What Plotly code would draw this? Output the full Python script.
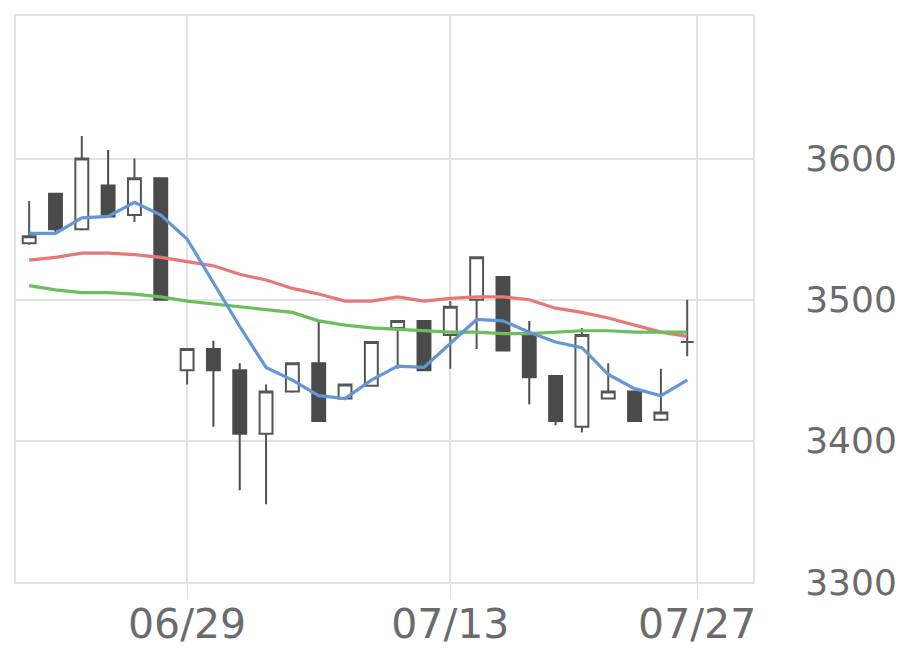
import plotly.graph_objects as go

# Trading days (categories)
dates = ["06/19", "06/22", "06/23", "06/24", "06/25", "06/26", "06/29", "06/30",
         "07/01", "07/02", "07/03", "07/06", "07/07", "07/08", "07/09", "07/10",
         "07/13", "07/14", "07/15", "07/16", "07/17", "07/21", "07/22", "07/23",
         "07/24", "07/27"]

open_ = [3540, 3575, 3550, 3581, 3560, 3586, 3450, 3465, 3450, 3405, 3435, 3455, 3430,
         3439, 3480, 3485, 3475, 3500, 3516, 3476, 3446, 3410, 3430, 3435, 3415, 3470]
high = [3570, 3575, 3616, 3606, 3600, 3586, 3465, 3471, 3455, 3440, 3455, 3485, 3440,
        3470, 3485, 3485, 3499, 3530, 3516, 3485, 3446, 3480, 3455, 3435, 3451, 3500]
low = [3539, 3548, 3549, 3558, 3555, 3500, 3440, 3410, 3365, 3355, 3434, 3414, 3429,
       3439, 3451, 3450, 3451, 3465, 3464, 3426, 3411, 3406, 3430, 3414, 3414, 3460]
close = [3545, 3550, 3600, 3559, 3586, 3500, 3465, 3450, 3405, 3435, 3455, 3414, 3440,
         3470, 3485, 3450, 3495, 3530, 3464, 3445, 3414, 3475, 3435, 3414, 3420, 3470]

ma_short = [3547, 3547, 3558, 3559, 3569, 3560, 3543, 3512, 3481, 3452, 3443, 3432, 3430,
            3443, 3453, 3452, 3469, 3486, 3485, 3477, 3470, 3466, 3447, 3437, 3432, 3443]
ma_mid = [3528, 3530, 3533, 3533, 3532, 3530, 3527, 3524, 3518, 3514, 3508, 3504, 3499,
          3499, 3502, 3499, 3501, 3502, 3502, 3500, 3494, 3491, 3487, 3482, 3477, 3474]
ma_long = [3510, 3507, 3505, 3505, 3504, 3502, 3499, 3497, 3495, 3493, 3491, 3485, 3482,
           3480, 3479, 3478, 3477, 3477, 3476, 3476, 3477, 3478, 3478, 3477, 3477, 3477]

x_tick_labels = ["06/29", "07/13", "07/27"]
y_ticks = [3300, 3400, 3500, 3600]

x = list(range(len(dates)))
x_tick_pos = [dates.index("06/29"), dates.index("07/13"), len(dates) - 1 + 0.38]

fig = go.Figure()
fig.add_trace(go.Scatter(x=x, y=ma_mid, mode="lines",
                         line=dict(color="#e87878", width=3.2), hoverinfo="skip"))
fig.add_trace(go.Scatter(x=x, y=ma_long, mode="lines",
                         line=dict(color="#6abe5c", width=3.2), hoverinfo="skip"))
fig.add_trace(go.Candlestick(
    x=x, open=open_, high=high, low=low, close=close,
    increasing=dict(fillcolor="#ffffff", line=dict(color="#555555", width=2)),
    decreasing=dict(fillcolor="#4a4a4a", line=dict(color="#4a4a4a", width=2)),
    whiskerwidth=0, hoverinfo="skip"))
fig.add_trace(go.Scatter(x=x, y=ma_short, mode="lines",
                         line=dict(color="#6496d7", width=3.2), hoverinfo="skip"))

fig.update_layout(
    width=920, height=669,
    margin=dict(l=16, r=167, t=16, b=87),
    paper_bgcolor="#ffffff", plot_bgcolor="#ffffff",
    showlegend=False,
    font=dict(family="DejaVu Sans", color="#6b6b6b"),
    xaxis=dict(
        range=[-0.5, 27.5], rangeslider=dict(visible=False),
        tickvals=x_tick_pos, ticktext=x_tick_labels,
        showgrid=True, gridcolor="#e2e2e2", gridwidth=2, zeroline=False,
        ticks="outside", ticklen=15, tickcolor="#d6ddeb", tickwidth=1,
        ticklabelstandoff=-10,
        showline=True, linecolor="#e2e2e2", linewidth=2, mirror=True,
        tickfont=dict(size=41, color="#6b6b6b"), automargin=False,
    ),
    yaxis=dict(
        side="right", range=[3300, 3701], tickvals=y_ticks,
        showgrid=True, gridcolor="#e2e2e2", gridwidth=2, zeroline=False,
        ticks="", ticklabelstandoff=43,
        showline=True, linecolor="#e2e2e2", linewidth=2, mirror=True,
        tickfont=dict(size=36, color="#6b6b6b"), automargin=False,
    ),
)

fig.write_html("out.html")
